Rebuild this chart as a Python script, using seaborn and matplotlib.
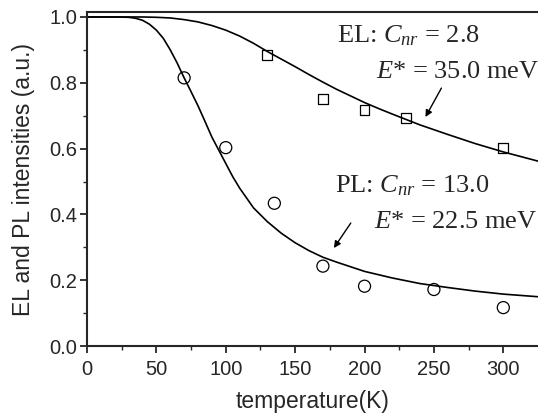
import numpy as np
import pandas as pd
import matplotlib
matplotlib.use('Agg')
import matplotlib.pyplot as plt
import seaborn as sns

# measured points
pl_temp = [70, 100, 135, 170, 200, 250, 300]
pl_int = [0.815, 0.603, 0.434, 0.243, 0.182, 0.172, 0.117]
el_temp = [130, 170, 200, 230, 300]
el_int = [0.885, 0.75, 0.717, 0.694, 0.601]

# fitted curves
pl_fit_temp = [0, 20, 30, 35, 40, 45, 50, 55, 60, 65, 70, 75, 80, 85, 90, 95, 100,
               105, 110, 120, 130, 140, 150, 160, 170, 180, 200, 220, 240, 260,
               280, 300, 325]
pl_fit_int = [1.0, 1.0, 0.999, 0.996, 0.99, 0.978, 0.96, 0.935, 0.90, 0.86, 0.815,
              0.773, 0.73, 0.683, 0.635, 0.595, 0.555, 0.515, 0.48, 0.42, 0.378,
              0.343, 0.314, 0.29, 0.27, 0.255, 0.227, 0.207, 0.19, 0.178, 0.167,
              0.158, 0.15]
el_fit_temp = [0, 40, 50, 60, 70, 80, 90, 100, 110, 120, 130, 140, 150, 160, 170,
               180, 190, 200, 210, 220, 240, 260, 280, 300, 325]
el_fit_int = [1.0, 1.0, 0.999, 0.997, 0.992, 0.985, 0.974, 0.96, 0.942, 0.92, 0.895,
              0.872, 0.849, 0.825, 0.802, 0.78, 0.76, 0.74, 0.722, 0.705, 0.672,
              0.643, 0.615, 0.59, 0.562]

sns.set_style("ticks")
plt.rcParams['font.family'] = ['Liberation Sans', 'DejaVu Sans']
plt.rcParams['mathtext.fontset'] = 'custom'
plt.rcParams['mathtext.rm'] = 'Liberation Serif'
plt.rcParams['mathtext.it'] = 'Liberation Serif:italic'

fig = plt.figure(figsize=(5.38, 4.15), dpi=100)
ax = fig.add_axes([0.1617, 0.166, 0.8383, 0.805])

sns.lineplot(x=pl_fit_temp, y=pl_fit_int, ax=ax, color='black', lw=1.2)
sns.lineplot(x=el_fit_temp, y=el_fit_int, ax=ax, color='black', lw=1.2)
sns.scatterplot(x=pl_temp, y=pl_int, ax=ax, marker='o', s=75,
                facecolor='none', edgecolor='black', linewidth=0.9, zorder=3)
sns.scatterplot(x=el_temp, y=el_int, ax=ax, marker='s', s=50,
                facecolor='none', edgecolor='black', linewidth=0.9, zorder=3)

ax.set_xlim(0, 325)
ax.set_ylim(0, 1.015)
ax.set_xticks([0, 50, 100, 150, 200, 250, 300])
ax.set_xticks(np.arange(25, 325, 50), minor=True)
ax.set_yticks([0.0, 0.2, 0.4, 0.6, 0.8, 1.0])
ax.set_yticks([0.1, 0.3, 0.5, 0.7, 0.9], minor=True)
ax.set_yticklabels(['0.0', '0.2', '0.4', '0.6', '0.8', '1.0'])
ax.tick_params(which='major', direction='out', length=5, width=1.3, labelsize=14.5)
ax.tick_params(axis='x', which='major', pad=5)
ax.tick_params(axis='y', which='major', pad=2)
ax.tick_params(which='minor', direction='out', length=3, width=1.0)
ax.tick_params(axis='x', top=False)
ax.tick_params(axis='y', right=False)
for s in ['left', 'bottom', 'top']:
    ax.spines[s].set_linewidth(1.5)
    ax.spines[s].set_visible(True)
ax.spines['right'].set_visible(False)

ax.set_xlabel('temperature(K)', fontsize=16.5, labelpad=8)
ax.set_ylabel('EL and PL intensities (a.u.)', fontsize=16.5, labelpad=10)

serif = ['Liberation Serif', 'DejaVu Serif']
ax.text(180, 0.924, r'EL: $C_{nr}$ = 2.8', fontsize=19, family=serif, va='baseline')
ax.text(208, 0.815, r'$E$* = 35.0 meV', fontsize=19, family=serif, va='baseline')
ax.text(179, 0.468, r'PL: $C_{nr}$ = 13.0', fontsize=19, family=serif, va='baseline')
ax.text(207, 0.359, r'$E$* = 22.5 meV', fontsize=19, family=serif, va='baseline')

arrow = dict(arrowstyle='-|>', color='black', lw=1.0, mutation_scale=10, shrinkA=0, shrinkB=0)
ax.annotate('', xy=(243.9, 0.696), xytext=(255.4, 0.784), arrowprops=arrow)
ax.annotate('', xy=(177.9, 0.298), xytext=(190.1, 0.374), arrowprops=arrow)

plt.savefig('out.png', dpi=100)
